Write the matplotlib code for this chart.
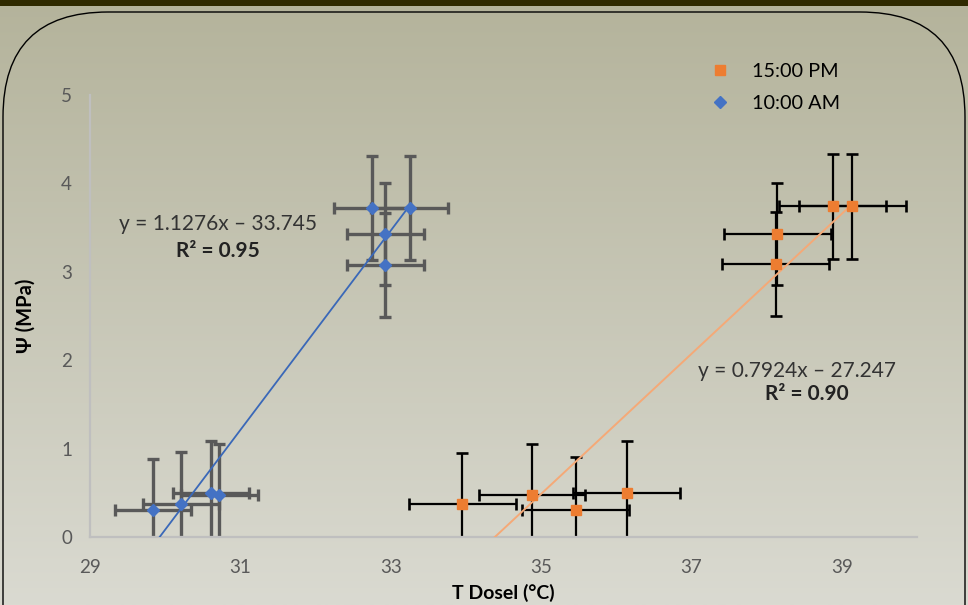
import matplotlib

matplotlib.use("Agg")
import matplotlib.pyplot as plt
import numpy as np
from matplotlib.colors import LinearSegmentedColormap
from matplotlib.patches import FancyBboxPatch, Rectangle

plt.rcParams["font.family"] = ["Lato", "DejaVu Sans"]

# 10:00 AM series: canopy temperature vs leaf water potential
am_temp = [29.84, 30.21, 30.61, 30.72, 32.75, 33.25, 32.93, 32.93]
am_psi = [0.30, 0.37, 0.50, 0.47, 3.72, 3.72, 3.43, 3.08]
am_temp_err = [0.51, 0.51, 0.51, 0.51, 0.51, 0.51, 0.51, 0.51]
am_psi_err = [0.58, 0.59, 0.59, 0.58, 0.59, 0.59, 0.58, 0.59]
am_fit = (1.1276, -33.745)

# 15:00 PM series
pm_temp = [33.95, 34.88, 35.46, 36.14, 38.88, 39.14, 38.14, 38.12]
pm_psi = [0.37, 0.48, 0.30, 0.50, 3.74, 3.74, 3.43, 3.09]
pm_temp_err = [0.71, 0.71, 0.71, 0.71, 0.71, 0.71, 0.71, 0.71]
pm_psi_err = [0.58, 0.57, 0.60, 0.59, 0.59, 0.59, 0.58, 0.59]
pm_fit = (0.7924, -27.247)

x_ticks = [29, 31, 33, 35, 37, 39]
y_ticks = [0, 1, 2, 3, 4, 5]

W, H = 968, 605
fig = plt.figure(figsize=(W / 100, H / 100), dpi=100)

# slide-like background: vertical gradient, rounded frame, dark top band
bg = fig.add_axes([0, 0, 1, 1], zorder=-1)
bg.set_axis_off()
cmap = LinearSegmentedColormap.from_list("bg", ["#b4b39b", "#dadad1"])
bg.imshow(np.linspace(0, 1, 256)[:, None], aspect="auto", cmap=cmap, extent=[0, W, H, 0])
bg.add_patch(FancyBboxPatch((3, 12), W - 6, 800, boxstyle="round,pad=0,rounding_size=105",
                            fc="none", ec="black", lw=1.0))
bg.add_patch(Rectangle((0, 0), W, 6, color="#2f2a00", lw=0))
bg.set_xlim(0, W)
bg.set_ylim(H, 0)

ax = fig.add_axes([90 / W, 1 - 537 / H, 827 / W, 442 / H])
ax.patch.set_alpha(0)

ax.errorbar(am_temp, am_psi, xerr=am_temp_err, yerr=am_psi_err, fmt="none",
            ecolor="#595959", elinewidth=2.4, capsize=4.5, capthick=2.4, zorder=2)
ax.errorbar(pm_temp, pm_psi, xerr=pm_temp_err, yerr=pm_psi_err, fmt="none",
            ecolor="black", elinewidth=1.6, capsize=4.5, capthick=1.9, zorder=2)

xa = np.array([min(am_temp), max(am_temp)])
ax.plot(xa, am_fit[0] * xa + am_fit[1], color="#3a68b8", lw=1.3, zorder=3)
xp = np.array([min(pm_temp), max(pm_temp)])
ax.plot(xp, pm_fit[0] * xp + pm_fit[1], color="#f5a977", lw=1.4, zorder=3)

pm_line, = ax.plot(pm_temp, pm_psi, ls="none", marker="s", ms=7, color="#ed7d31",
                   label="15:00 PM", zorder=4)
am_line, = ax.plot(am_temp, am_psi, ls="none", marker="D", ms=6.3, color="#4472c4",
                   label="10:00 AM", zorder=4)

ax.text(30.70, 3.54, "y = 1.1276x \u2013 33.745", ha="center", va="center", fontsize=15, color="#333333")
ax.text(30.70, 3.24, "R\u00b2 = 0.95", ha="center", va="center", fontsize=15, weight="bold", color="#222222")
ax.text(38.41, 1.88, "y = 0.7924x \u2013 27.247", ha="center", va="center", fontsize=15, color="#333333")
ax.text(38.53, 1.62, "R\u00b2 = 0.90", ha="center", va="center", fontsize=15, weight="bold", color="#222222")

ax.set_xlim(29, 40)
ax.set_ylim(0, 5)
ax.set_xticks(x_ticks)
ax.set_yticks(y_ticks)
ax.tick_params(length=0, labelsize=13.5, labelcolor="#595959")
ax.tick_params(axis="x", pad=16)
ax.tick_params(axis="y", pad=13)
for s in ("top", "right"):
    ax.spines[s].set_visible(False)
for s in ("left", "bottom"):
    ax.spines[s].set_color("#bfbfbf")
    ax.spines[s].set_linewidth(1.6)

ax.set_xlabel("T Dosel (\u00b0C)", fontsize=14, weight="bold")
ax.xaxis.set_label_coords(0.5, -0.107)
ax.set_ylabel("\u03a8 (MPa)", fontsize=14.5, weight="bold")
ax.yaxis.set_label_coords(-0.066, 0.5)

ax.legend(handles=[pm_line, am_line], loc="upper left", bbox_to_anchor=(692 / W, 1 - 45 / H),
          bbox_transform=fig.transFigure, frameon=False, fontsize=14.3, handlelength=1.0,
          handletextpad=1.1, labelspacing=0.78, borderpad=0.4)

fig.savefig("out.png", dpi=100)
